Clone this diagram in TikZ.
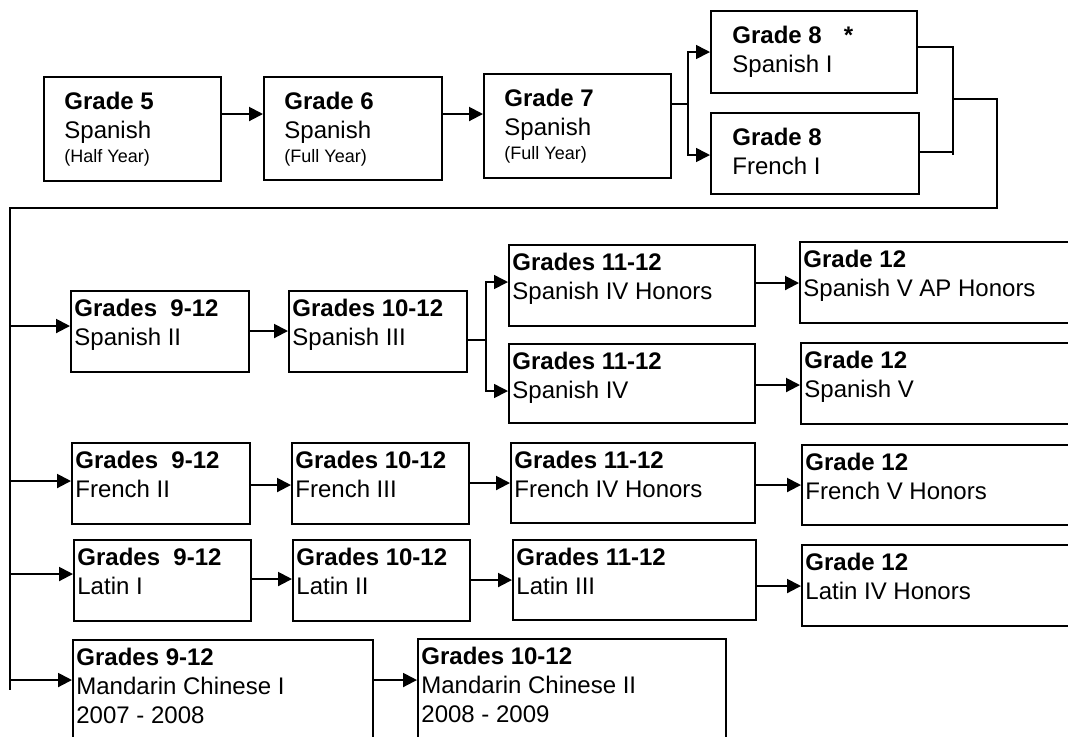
\documentclass[tikz,border=0pt]{standalone}
\usepackage{fontspec}
\setmainfont{Liberation Sans}
\usetikzlibrary{arrows.meta}

\newcommand{\smalltxt}{\fontsize{9}{11}\selectfont}

\begin{document}
\begin{tikzpicture}[x=0.5pt, y=-0.5pt,
    box/.style={draw, line width=1pt, anchor=north west, inner sep=0pt},
    txt/.style={anchor=north west, inner sep=0pt, align=left, font=\fontsize{12}{14.3}\selectfont},
    arr/.style={line width=1pt, -{Triangle[length=7pt,width=7pt]}},
    link/.style={line width=0.8pt}]
\useasboundingbox (0,0) rectangle (1068,736);
\clip (0,0) rectangle (1068,736);

% grades 5 to 8
\node[box, minimum width=88.5pt, minimum height=52pt] (g5) at (43,76) {};
\node[txt] (g5t) at ([shift={(21,16)}]g5.north west) {\textbf{Grade 5}\\Spanish\\[-2.3pt]{\smalltxt (Half Year)}};
\node[box, minimum width=89pt, minimum height=51.5pt] (g6) at (263,76) {};
\node[txt] (g6t) at ([shift={(21,16)}]g6.north west) {\textbf{Grade 6}\\Spanish\\[-2.3pt]{\smalltxt (Full Year)}};
\node[box, minimum width=93.5pt, minimum height=52pt] (g7) at (483,73) {};
\node[txt] (g7t) at ([shift={(21,16)}]g7.north west) {\textbf{Grade 7}\\Spanish\\[-2.3pt]{\smalltxt (Full Year)}};
\node[box, minimum width=103pt, minimum height=41pt] (g8s) at (710,10) {};
\node[txt] (g8st) at ([shift={(22,16)}]g8s.north west) {\textbf{Grade 8}\hspace{11pt}\textbf{*}\\Spanish I};
\node[box, minimum width=104pt, minimum height=40.5pt] (g8f) at (710,112) {};
\node[txt] (g8ft) at ([shift={(22,16)}]g8f.north west) {\textbf{Grade 8}\\French I};

% spanish
\node[box, minimum width=89pt, minimum height=40.5pt] (sp2) at (70,290) {};
\node[txt] (sp2t) at ([shift={(4,9)}]sp2.north west) {\textbf{Grades\ \ 9-12}\\Spanish II};
\node[box, minimum width=89pt, minimum height=40.5pt] (sp3) at (288,290) {};
\node[txt] (sp3t) at ([shift={(4,9)}]sp3.north west) {\textbf{Grades 10-12}\\Spanish III};
\node[box, minimum width=123pt, minimum height=40.5pt] (sp4h) at (508,244) {};
\node[txt] (sp4ht) at ([shift={(4,9)}]sp4h.north west) {\textbf{Grades 11-12}\\Spanish IV Honors};
\node[box, minimum width=123pt, minimum height=39.5pt] (sp4) at (508,343) {};
\node[txt] (sp4t) at ([shift={(4,9)}]sp4.north west) {\textbf{Grades 11-12}\\Spanish IV};
\node[box, minimum width=150pt, minimum height=40.5pt] (sp5ap) at (799,241) {};
\node[txt] (sp5apt) at ([shift={(4,9)}]sp5ap.north west) {\textbf{Grade 12}\\Spanish V AP Honors};
\node[box, minimum width=150pt, minimum height=40.5pt] (sp5) at (800,342) {};
\node[txt] (sp5t) at ([shift={(4,9)}]sp5.north west) {\textbf{Grade 12}\\Spanish V};

% french
\node[box, minimum width=89pt, minimum height=40.5pt] (fr2) at (71,442) {};
\node[txt] (fr2t) at ([shift={(4,9)}]fr2.north west) {\textbf{Grades\ \ 9-12}\\French II};
\node[box, minimum width=88.5pt, minimum height=40.5pt] (fr3) at (291,442) {};
\node[txt] (fr3t) at ([shift={(4,9)}]fr3.north west) {\textbf{Grades 10-12}\\French III};
\node[box, minimum width=122pt, minimum height=40pt] (fr4h) at (510,442) {};
\node[txt] (fr4ht) at ([shift={(4,9)}]fr4h.north west) {\textbf{Grades 11-12}\\French IV Honors};
\node[box, minimum width=150pt, minimum height=40pt] (fr5h) at (801,444) {};
\node[txt] (fr5ht) at ([shift={(4,9)}]fr5h.north west) {\textbf{Grade 12}\\French V Honors};

% latin
\node[box, minimum width=88.5pt, minimum height=40.5pt] (la1) at (73,539) {};
\node[txt] (la1t) at ([shift={(4,9)}]la1.north west) {\textbf{Grades\ \ 9-12}\\Latin I};
\node[box, minimum width=88.5pt, minimum height=40.5pt] (la2) at (292,539) {};
\node[txt] (la2t) at ([shift={(4,9)}]la2.north west) {\textbf{Grades 10-12}\\Latin II};
\node[box, minimum width=121.5pt, minimum height=40pt] (la3) at (512,539) {};
\node[txt] (la3t) at ([shift={(4,9)}]la3.north west) {\textbf{Grades 11-12}\\Latin III};
\node[box, minimum width=150pt, minimum height=40.5pt] (la4h) at (801,544) {};
\node[txt] (la4ht) at ([shift={(4,9)}]la4h.north west) {\textbf{Grade 12}\\Latin IV Honors};

% mandarin
\node[box, minimum width=150pt, minimum height=75pt] (ma1) at (72,639) {};
\node[txt] (ma1t) at ([shift={(4,9)}]ma1.north west) {\textbf{Grades 9-12}\\Mandarin Chinese I\\2007 - 2008};
\node[box, minimum width=154pt, minimum height=75pt] (ma2) at (417,638) {};
\node[txt] (ma2t) at ([shift={(4,9)}]ma2.north west) {\textbf{Grades 10-12}\\Mandarin Chinese II\\2008 - 2009};

% connectors
\foreach \a/\b/\y in {g5/g6/114, g6/g7/114, sp2/sp3/331, sp4h/sp5ap/283, sp4/sp5/385,
    fr2/fr3/485, fr3/fr4h/483, fr4h/fr5h/485, la1/la2/579, la2/la3/580, la3/la4h/586, ma1/ma2/680}
  \draw[arr] (\a.east |- 0,\y) -- (\b.west |- 0,\y);

\coordinate (j7) at (688,104);
\draw[link] (g7.east |- j7) -- (j7);
\draw[arr, line width=0.8pt] (j7) |- (g8s.west |- 0,52);
\draw[arr, line width=0.8pt] (j7) |- (g8f.west |- 0,155);

\coordinate (j8) at (953,99);
\draw[link] (g8s.east |- 0,47) -| (j8 |- 0,155);
\draw[link] (g8f.east |- 0,152) -- (j8 |- 0,152);
\coordinate (trunk) at (10,208);
\draw[line width=1pt] (j8) -- (997,99) |- (trunk) -- (10,690);
\foreach \n/\y in {sp2/326, fr2/481, la1/574, ma1/680}
  \draw[arr] (trunk |- 0,\y) -- (\n.west |- 0,\y);

\coordinate (j3) at (486,340);
\draw[link] (sp3.east |- j3) -- (j3);
\draw[arr, line width=0.8pt] (j3) |- (sp4h.west |- 0,282);
\draw[arr, line width=0.8pt] (j3) |- (sp4.west |- 0,391);
\end{tikzpicture}
\end{document}
